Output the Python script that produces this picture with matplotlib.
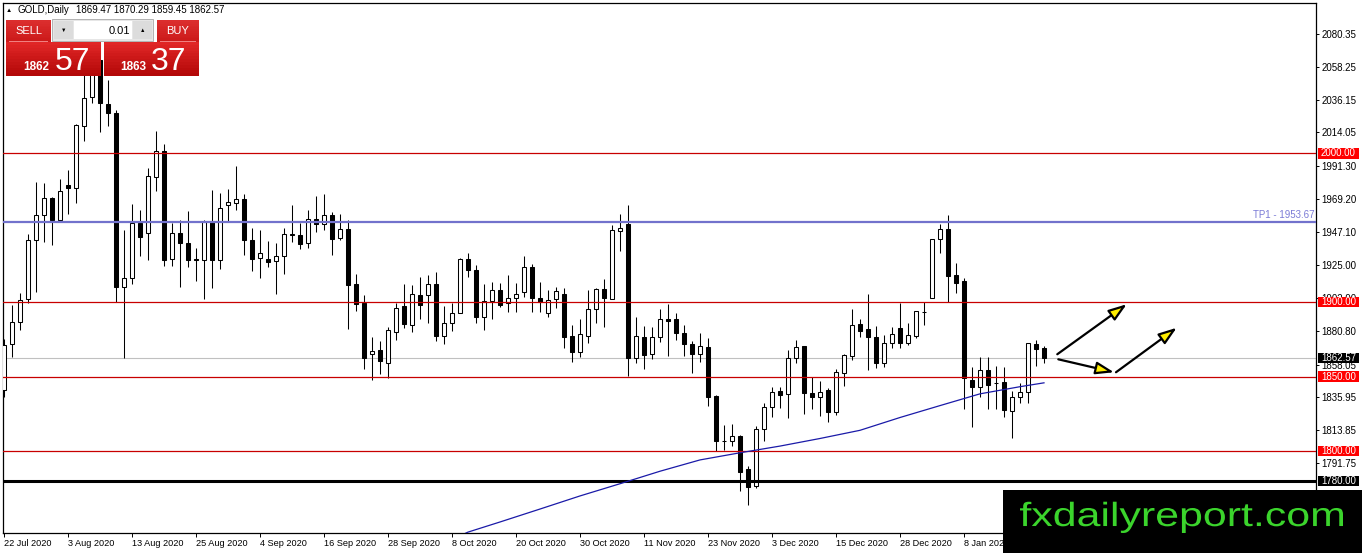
import matplotlib
matplotlib.use('Agg')
from matplotlib import pyplot as plt
from matplotlib.patches import Rectangle, PathPatch
from matplotlib.textpath import TextPath
from matplotlib.font_manager import FontProperties
from matplotlib.transforms import Affine2D, blended_transform_factory

plt.rcParams['font.family'] = ['Liberation Sans', 'DejaVu Sans']

# Dados diarios do ouro (22 Jul 2020 -> 22 Jan 2021)
opens = [1841.0, 1871.8, 1887.0, 1902.0, 1941.8, 1958.6, 1970.2, 1955.3, 1978.7, 1976.5,
         2018.5, 2037.6, 2063.0, 2033.0, 2027.3, 1910.5, 1916.0, 1953.5, 1946.8, 1984.3,
         2001.6, 1928.9, 1946.3, 1939.6, 1929.0, 1928.2, 1953.9, 1928.6, 1965.5, 1966.9,
         1969.6, 1942.0, 1930.0, 1929.3, 1927.7, 1931.0, 1945.0, 1945.0, 1939.8, 1955.7,
         1952.8, 1958.4, 1943.0, 1949.4, 1912.0, 1899.6, 1864.9, 1867.8, 1859.3, 1880.0,
         1897.5, 1884.8, 1905.1, 1904.5, 1912.5, 1877.4, 1886.1, 1893.0, 1929.3, 1921.9,
         1890.2, 1900.7, 1908.0, 1899.1, 1903.1, 1906.5, 1923.3, 1903.1, 1892.4, 1901.8,
         1905.8, 1877.2, 1866.7, 1877.2, 1895.1, 1908.7, 1902.0, 1947.9, 1952.8, 1862.6,
         1876.3, 1864.9, 1876.3, 1888.4, 1888.4, 1879.6, 1871.6, 1865.5, 1869.6, 1836.9,
         1807.0, 1806.9, 1810.1, 1787.9, 1776.7, 1814.5, 1829.8, 1840.3, 1838.0, 1862.2,
         1870.5, 1838.7, 1836.0, 1840.9, 1826.4, 1852.6, 1863.8, 1885.2, 1881.9, 1876.7,
         1859.3, 1872.3, 1882.8, 1872.7, 1877.2, 1893.5, 1902.9, 1942.1, 1949.4, 1918.1,
         1914.1, 1847.7, 1842.7, 1854.4, 1845.6, 1846.5, 1827.1, 1836.5, 1839.8, 1871.8,
         1869.47]
highs = [1875.0, 1898.0, 1906.0, 1945.9, 1980.5, 1979.9, 1970.9, 1982.8, 1988.8, 2019.5,
         2055.0, 2070.0, 2075.0, 2049.0, 2029.0, 1948.5, 1966.0, 1962.0, 1990.4, 2015.0,
         2006.0, 1953.0, 1955.0, 1961.0, 1936.7, 1955.0, 1975.6, 1973.4, 1975.8, 1991.5,
         1972.5, 1950.0, 1948.3, 1941.0, 1940.0, 1950.0, 1965.5, 1953.0, 1961.7, 1971.4,
         1973.0, 1960.6, 1959.5, 1955.0, 1919.0, 1904.7, 1876.3, 1874.0, 1883.0, 1899.6,
         1911.9, 1911.4, 1916.6, 1918.1, 1920.4, 1897.3, 1899.6, 1929.5, 1932.7, 1924.8,
         1911.9, 1913.6, 1913.2, 1918.1, 1913.2, 1930.9, 1925.5, 1913.6, 1908.5, 1910.3,
         1909.8, 1884.6, 1889.0, 1908.0, 1909.6, 1915.4, 1952.1, 1959.5, 1965.1, 1890.2,
         1883.9, 1883.0, 1895.7, 1898.7, 1892.4, 1884.6, 1873.8, 1879.4, 1876.1, 1837.6,
         1817.4, 1817.9, 1810.7, 1789.9, 1816.8, 1832.0, 1843.2, 1843.2, 1867.8, 1874.5,
         1870.5, 1849.9, 1847.0, 1842.0, 1855.0, 1864.9, 1895.3, 1889.0, 1905.8, 1883.9,
         1877.9, 1883.0, 1899.1, 1886.1, 1894.0, 1900.2, 1942.1, 1952.8, 1958.4, 1926.6,
         1915.9, 1856.2, 1862.9, 1862.9, 1857.0, 1856.6, 1840.5, 1845.4, 1872.7, 1874.5,
         1870.29]
lows = [1836.0, 1862.9, 1881.0, 1899.3, 1906.7, 1940.7, 1938.5, 1954.6, 1959.3, 1966.9,
        2008.5, 2033.6, 2014.5, 2018.6, 1900.4, 1862.4, 1912.0, 1931.3, 1928.4, 1975.0,
        1924.0, 1924.0, 1910.5, 1923.5, 1913.9, 1901.8, 1909.2, 1922.6, 1954.6, 1961.7,
        1932.0, 1921.0, 1915.9, 1923.7, 1905.8, 1918.8, 1940.5, 1936.0, 1936.5, 1947.2,
        1948.3, 1931.5, 1942.0, 1881.9, 1894.0, 1855.0, 1847.6, 1851.7, 1848.8, 1874.5,
        1882.8, 1880.0, 1889.0, 1886.1, 1874.0, 1871.8, 1880.8, 1892.4, 1916.6, 1885.7,
        1881.2, 1889.0, 1896.9, 1893.5, 1893.5, 1903.6, 1893.5, 1893.5, 1890.0, 1896.4,
        1868.9, 1859.5, 1863.3, 1872.7, 1885.7, 1883.4, 1901.8, 1934.5, 1850.6, 1859.3,
        1855.0, 1861.7, 1873.4, 1864.0, 1874.5, 1863.8, 1852.1, 1860.0, 1830.2, 1800.0,
        1800.7, 1803.4, 1773.4, 1763.8, 1775.4, 1806.9, 1823.0, 1828.6, 1821.9, 1859.3,
        1824.8, 1828.0, 1823.5, 1819.7, 1824.2, 1843.8, 1861.1, 1876.7, 1854.4, 1855.5,
        1856.6, 1868.9, 1868.9, 1871.1, 1875.6, 1884.6, 1902.5, 1933.3, 1900.2, 1906.3,
        1828.0, 1816.3, 1836.5, 1828.2, 1828.0, 1822.6, 1808.5, 1832.4, 1832.0, 1857.3,
        1859.45]
closes = [1871.4, 1887.0, 1901.6, 1941.8, 1958.6, 1969.8, 1955.3, 1974.7, 1976.5, 2018.8,
          2036.9, 2063.0, 2034.0, 2026.8, 1910.5, 1916.0, 1953.0, 1943.6, 1984.8, 2001.6,
          1928.0, 1946.3, 1939.6, 1928.0, 1928.2, 1953.9, 1928.6, 1963.5, 1967.0, 1969.6,
          1942.0, 1929.3, 1932.7, 1927.0, 1930.9, 1946.0, 1945.6, 1939.0, 1955.7, 1952.8,
          1958.4, 1942.7, 1949.4, 1911.4, 1899.0, 1862.2, 1867.1, 1860.6, 1881.2, 1896.4,
          1885.0, 1905.2, 1898.4, 1912.5, 1877.4, 1886.1, 1892.4, 1929.3, 1921.9, 1890.2,
          1900.7, 1908.0, 1898.4, 1903.1, 1905.8, 1923.3, 1902.9, 1900.2, 1901.3, 1907.4,
          1876.3, 1866.7, 1878.3, 1895.1, 1908.7, 1902.5, 1948.8, 1950.1, 1862.2, 1877.2,
          1864.4, 1876.3, 1888.4, 1887.5, 1879.0, 1871.6, 1865.5, 1870.5, 1836.5, 1806.9,
          1806.5, 1810.1, 1786.1, 1776.1, 1814.5, 1829.8, 1839.8, 1837.6, 1862.2, 1869.6,
          1838.7, 1836.0, 1839.4, 1826.4, 1853.0, 1864.4, 1884.6, 1880.8, 1876.3, 1859.3,
          1872.3, 1878.3, 1872.7, 1877.9, 1894.0, 1893.3, 1942.1, 1949.4, 1917.4, 1913.0,
          1848.8, 1842.7, 1854.4, 1844.3, 1845.4, 1827.5, 1836.5, 1839.8, 1872.3, 1868.5,
          1862.57]

ma_bars = [57, 58, 62, 67, 72, 77, 82, 87, 92, 97, 102, 107, 112, 117, 122, 127, 130]
ma_values = [1743.0, 1745.5, 1752.3, 1761.0, 1769.8, 1778.0, 1786.4, 1794.0, 1798.8,
             1803.3, 1808.4, 1813.9, 1822.5, 1830.5, 1838.4, 1843.2, 1845.8]

# Eixos
date_labels = ['22 Jul 2020', '3 Aug 2020', '13 Aug 2020', '25 Aug 2020', '4 Sep 2020',
               '16 Sep 2020', '28 Sep 2020', '8 Oct 2020', '20 Oct 2020', '30 Oct 2020',
               '11 Nov 2020', '23 Nov 2020', '3 Dec 2020', '15 Dec 2020', '28 Dec 2020',
               '8 Jan 2021']
price_ticks = [2080.35, 2058.25, 2036.15, 2014.05, 1991.30, 1969.20, 1947.10, 1925.00,
               1902.90, 1880.80, 1858.05, 1835.95, 1813.85, 1791.75]

# Linhas horizontais
red_levels = [2000.0, 1900.0, 1850.0, 1800.0]
black_level = 1780.0
tp_level = 1953.67
bid_price = 1862.57

# Setas (barra, preco) -> (barra, preco)
arrows = [((131.66, 1865.0), (140.34, 1898.6)),
          ((131.79, 1861.6), (138.75, 1852.9)),
          ((139.0, 1852.9), (146.59, 1882.8))]

W, H = 1362, 553
fig = plt.figure(figsize=(W / 100, H / 100), dpi=100)
ax = fig.add_axes([3 / W, 20 / H, 1313 / W, 530 / H])
ax.set_xlim(-0.125, 164)
ax.set_ylim(1744.9, 2101.0)
for s in ax.spines.values():
    s.set_linewidth(0.9)
    s.set_color('black')

# Candles
xs = list(range(len(opens)))
ax.vlines(xs, lows, highs, color='black', linewidth=0.75, zorder=3)
for i in xs:
    o, c = opens[i], closes[i]
    bottom = min(o, c)
    height = max(abs(c - o), 0.3)
    fill = 'white' if c >= o else 'black'
    ax.add_patch(Rectangle((i - 0.27, bottom), 0.54, height, facecolor=fill,
                           edgecolor='black', linewidth=0.75, zorder=4))

# Linhas
ax.axhline(bid_price, color='#c0c0c0', linewidth=0.8, zorder=2)
for lv in red_levels:
    ax.axhline(lv, color='#c80000', linewidth=0.9, zorder=5)
ax.axhline(black_level, color='black', linewidth=2.2, zorder=5)
ax.axhline(tp_level, color='#7272cc', linewidth=1.6, zorder=5)
ax.plot(ma_bars, ma_values, color='#1a1aa8', linewidth=0.9, zorder=6)

bt = blended_transform_factory(ax.transAxes, ax.transData)
ax.text(0.9985, tp_level + 1.2, 'TP1 - 1953.67', transform=bt, ha='right', va='bottom',
        fontsize=7, color='#7b7bd6', zorder=6)

for tail, tip in arrows:
    ax.annotate('', xy=tip, xytext=tail,
                arrowprops=dict(arrowstyle='-|>,head_length=1.1,head_width=0.38',
                                fc='#ffee00', ec='black', lw=1.6,
                                shrinkA=0, shrinkB=0), zorder=7)

# Eixo de precos a direita
ax.yaxis.tick_right()
ax.set_yticks(price_ticks)
ax.set_yticklabels(['%.2f' % p for p in price_ticks])
ax.tick_params(axis='y', direction='out', length=2.5, width=0.7, pad=1.5, labelsize=7)

# Eixo de datas
ax.set_xticks(list(range(0, 8 * len(date_labels), 8)))
ax.set_xticklabels(date_labels, ha='left')
ax.tick_params(axis='x', direction='out', length=3, width=0.7, pad=1.5, labelsize=6.6)

# Etiquetas com caixa na escala de precos
px = 1.4885  # pixels por unidade de preco
boxes = [(2000.0, '#ff0000'), (1900.0, '#ff0000'), (1850.0, '#ff0000'),
         (1800.0, '#ff0000'), (bid_price, 'black'), (black_level, 'black')]
for val, col in boxes:
    ax.add_patch(Rectangle((1315 / 1313, val - 5.2 / px), 41 / 1313, 10.4 / px,
                           transform=bt, facecolor=col, edgecolor='none',
                           clip_on=False, zorder=8))
    ax.text(1318 / 1313, val, '%.2f' % val, transform=bt, ha='left', va='center',
            fontsize=7, color='white', clip_on=False, zorder=9)


# Painel de negociacao (coordenadas em pixels a partir do topo)
def fig_rect(x0, y0, x1, y1, color, ec='none', lw=0):
    fig.add_artist(Rectangle((x0 / W, 1 - y1 / H), (x1 - x0) / W, (y1 - y0) / H,
                             transform=fig.transFigure, facecolor=color,
                             edgecolor=ec, linewidth=lw))


def fig_text(x, y, s, **kw):
    fig.text(x / W, 1 - y / H, s, **kw)


def red_box(x0, y0, x1, y1, top, bottom):
    n = 12
    for k in range(n):
        t = k / (n - 1)
        col = tuple(top[j] + (bottom[j] - top[j]) * t for j in range(3))
        fig_rect(x0, y0 + (y1 - y0) * k / n, x1, y0 + (y1 - y0) * (k + 1) / n, col)


fig_text(6, 10, '\u25B2', fontsize=4.5, va='center')
fig_text(17, 10, 'GOLD,Daily', fontsize=7, va='center')
fig_text(76, 10, '1869.47 1870.29 1859.45 1862.57', fontsize=7, va='center')

red_box(6, 20, 51, 42, (0.86, 0.18, 0.18), (0.80, 0.10, 0.10))
red_box(157, 20, 199, 42, (0.86, 0.18, 0.18), (0.80, 0.10, 0.10))
fig_rect(9, 41, 48, 42, '#f08080')
fig_rect(160, 41, 196, 42, '#f08080')
fig_text(28.5, 30.5, 'SELL', fontsize=8, color='white', ha='center', va='center')
fig_text(178, 30.5, 'BUY', fontsize=8, color='white', ha='center', va='center')

fig_rect(52, 19, 153, 41, '#e6e6e6', ec='#a8a8a8', lw=0.6)
fig_rect(54, 21, 73, 39, '#dcdcdc')
fig_rect(74, 21, 132, 39, 'white')
fig_rect(133, 21, 152, 39, '#dcdcdc')
fig_text(63.5, 30, '\u25BC', fontsize=4, ha='center', va='center')
fig_text(142.5, 30, '\u25B2', fontsize=4, ha='center', va='center')
fig_text(130, 30.5, '0.01', fontsize=8, ha='right', va='center')

red_box(6, 42, 101, 76, (0.88, 0.15, 0.15), (0.70, 0.03, 0.03))
red_box(104, 42, 199, 76, (0.88, 0.15, 0.15), (0.70, 0.03, 0.03))
fig_text(23, 70, '1862', fontsize=8.5, fontweight='bold', color='white', va='baseline')
fig_text(55, 70, '57', fontsize=23, color='white', va='baseline')
fig_text(120, 70, '1863', fontsize=8.5, fontweight='bold', color='white', va='baseline')
fig_text(151, 70, '37', fontsize=23, color='white', va='baseline')

# Marca d'agua
fig_rect(1003, 490, 1362, 553, 'black')
tp = TextPath((0, 0), 'fxdailyreport.com', size=1, prop=FontProperties(family='Liberation Sans'))
bb = tp.get_extents()
x0, x1, ytop, ybot = 1020, 1343, 501.7, 533
tr = (Affine2D().translate(-bb.x0, -bb.y0)
      .scale((x1 - x0) / bb.width, (ybot - ytop) / bb.height)
      .translate(x0, H - ybot).scale(1 / W, 1 / H) + fig.transFigure)
fig.add_artist(PathPatch(tp, transform=tr, facecolor='#3bd42c', edgecolor='none'))

plt.savefig('out.png', dpi=100)
